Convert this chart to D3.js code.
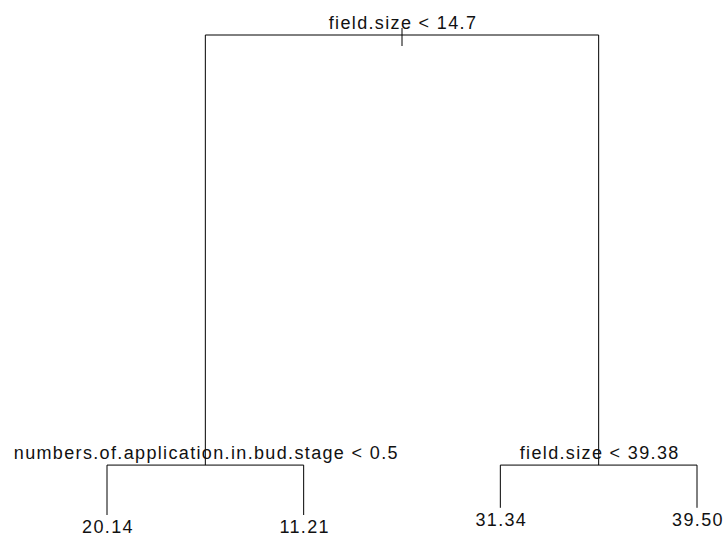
<!DOCTYPE html>
<html>
<head>
<meta charset="utf-8">
<script src="https://cdn.jsdelivr.net/npm/d3@7"></script>
<style>
  body { margin: 0; background: #fff; }
</style>
</head>
<body>
<div id="chart"></div>
<script>
// tree nodes: id, parent, split label / leaf value, leaf order (x), node deviance height (y)
const nodeIds = [1, 2, 3, 4, 5, 6, 7]
const parents = [null, 1, 1, 2, 2, 3, 3]
const splitLabels = ["field.size < 14.7", "numbers.of.application.in.bud.stage < 0.5", "field.size < 39.38", null, null, null, null]
const leafValues = [null, null, null, "20.14", "11.21", "31.34", "39.50"]
const heights = [100, 10.4, 10.4, 0, 0, 1.5, 1.5]

var width = 726;
var height = 537;

var svg = d3.select("#chart").append("svg")
  .attr("width", width)
  .attr("height", height)

svg.append("rect")
  .attr("width", "100%")
  .attr("height", "100%")
  .attr("fill", "#fff");

// build nodes
let nodes = nodeIds.map((id, i) => ({
  id: id, parent: parents[i], split: splitLabels[i], leaf: leafValues[i], h: heights[i], children: []
}))
nodes.forEach(n => { if (n.parent) nodes.find(p => p.id === n.parent).children.push(n) })

// leaves get positions 1..n in order, internal nodes sit midway between their children
let leafCount = 0
let place = function (n) {
  if (n.children.length === 0) { leafCount += 1; n.pos = leafCount; return n.pos }
  let ps = n.children.map(place)
  n.pos = d3.mean(ps)
  return n.pos
}
place(nodes[0])

var x = d3.scaleLinear().domain([1, leafCount]).range([107, 697])
var y = d3.scaleLinear().domain([0, 100]).range([515, 35])

var g = svg.append("g")
  .attr("stroke", "#000")
  .attr("stroke-width", 1)
  .attr("fill", "none")

// root tick
g.append("line")
  .attr("x1", x(nodes[0].pos)).attr("x2", x(nodes[0].pos))
  .attr("y1", y(nodes[0].h) - 7).attr("y2", y(nodes[0].h) + 11)

nodes.filter(n => n.children.length).forEach(n => {
  let ys = y(n.h)
  // horizontal bar across children
  g.append("line")
    .attr("x1", x(n.children[0].pos)).attr("x2", x(n.children[n.children.length - 1].pos))
    .attr("y1", ys).attr("y2", ys)
  n.children.forEach(c => {
    g.append("line")
      .attr("x1", x(c.pos)).attr("x2", x(c.pos))
      .attr("y1", ys).attr("y2", y(c.h))
  })
})

var font = "Arial, 'Liberation Sans', sans-serif"

svg.selectAll(".split")
  .data(nodes.filter(n => n.split))
  .enter()
  .append("text")
  .attr("class", "split")
  .attr("x", d => x(d.pos) + 1)
  .attr("y", d => y(d.h) - 6)
  .attr("text-anchor", "middle")
  .attr("font-family", font)
  .attr("font-size", "18px")
  .attr("letter-spacing", "1.35px")
  .attr("fill", "#111")
  .text(d => d.split)

svg.selectAll(".leaf")
  .data(nodes.filter(n => n.leaf))
  .enter()
  .append("text")
  .attr("class", "leaf")
  .attr("x", d => x(d.pos) + 1)
  .attr("y", d => y(d.h) + 18)
  .attr("text-anchor", "middle")
  .attr("font-family", font)
  .attr("font-size", "18px")
  .attr("letter-spacing", "1.35px")
  .attr("fill", "#111")
  .text(d => d.leaf)
</script>
</body>
</html>
